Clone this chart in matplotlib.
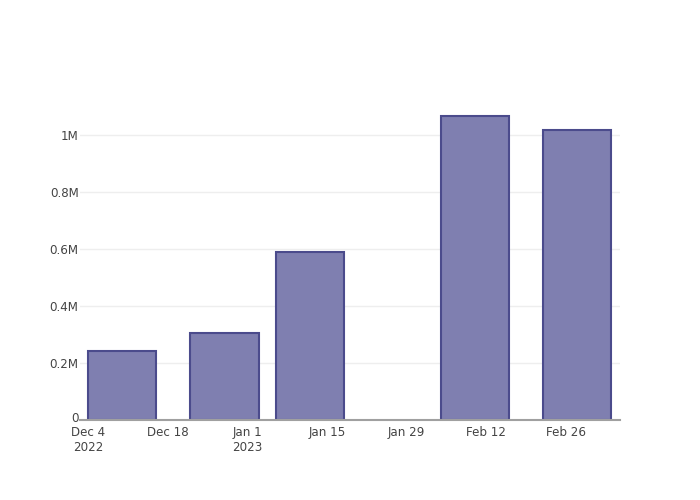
import datetime as dt

import matplotlib
matplotlib.use("Agg")
import matplotlib.pyplot as plt
import matplotlib.dates as mdates
import matplotlib.transforms as mtransforms

# bar centres, values
dates = [dt.datetime(2022, 12, 10), dt.datetime(2022, 12, 28), dt.datetime(2023, 1, 12),
         dt.datetime(2023, 2, 10), dt.datetime(2023, 2, 28)]
values = [242000, 305000, 589000, 1067000, 1016000]
bar_days = 12

tick_dates = [dt.datetime(2022, 12, 4), dt.datetime(2022, 12, 18), dt.datetime(2023, 1, 1),
              dt.datetime(2023, 1, 15), dt.datetime(2023, 1, 29), dt.datetime(2023, 2, 12),
              dt.datetime(2023, 2, 26)]
tick_labels = ["Dec 4\n2022", "Dec 18", "Jan 1\n2023", "Jan 15", "Jan 29", "Feb 12", "Feb 26"]
y_ticks = [0, 200000, 400000, 600000, 800000, 1000000]
y_labels = ["0", "0.2M", "0.4M", "0.6M", "0.8M", "1M"]

FILL, EDGE, INK, GRID, AXIS = "#7f7fb0", "#4b4b8c", "#444444", "#eeeeee", "#a0a0a0"

plt.rcParams["font.family"] = ["DejaVu Sans"]

fig = plt.figure(figsize=(7, 5), dpi=100)
ax = fig.add_axes([80 / 700, 80 / 500, 540 / 700, 320 / 500])

ax.bar(dates, values, width=bar_days, color=FILL, edgecolor=EDGE, linewidth=1.5, zorder=3)

x0 = mdates.date2num(dt.datetime(2022, 12, 4)) - 1.4
ax.set_xlim(x0, x0 + 540 / 5.69)
ax.set_ylim(0, 1123000)

ax.set_xticks(tick_dates)
ax.set_xticklabels(tick_labels, linespacing=1.25)
ax.set_yticks(y_ticks)
ax.set_yticklabels(y_labels)
ax.tick_params(axis="both", length=0, labelsize=8.6, colors=INK)
ax.tick_params(axis="y", pad=1)
ax.tick_params(axis="x", pad=4)

# lift the "0" label a touch so it does not sit on "Dec 4"
zero = ax.get_yticklabels()[0]
zero.set_transform(zero.get_transform() +
                   mtransforms.ScaledTranslation(0, 3 / 100, fig.dpi_scale_trans))

ax.grid(axis="y", color=GRID, linewidth=1, zorder=0)
for side in ("top", "right", "left"):
    ax.spines[side].set_visible(False)
ax.spines["bottom"].set_color(AXIS)
ax.spines["bottom"].set_linewidth(1.5)
ax.spines["bottom"].set_zorder(4)

fig.savefig("out.png", dpi=100)
